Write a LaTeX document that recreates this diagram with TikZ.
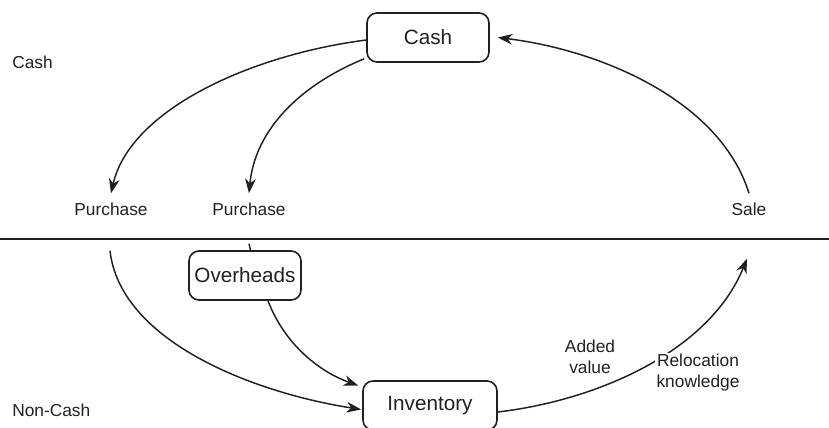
\documentclass[tikz,border=0pt]{standalone}
\usepackage{fontspec}
\setmainfont{Liberation Sans}
\usetikzlibrary{arrows.meta}
\definecolor{ink}{RGB}{35,31,32}
\begin{document}
\begin{tikzpicture}[x=0.75pt,y=-0.75pt,
  every node/.style={text=ink},
  stagebox/.style={draw=ink,line width=1.2pt,rounded corners=7.5pt,
    minimum height=49*0.75pt,inner sep=0pt,font=\fontsize{15.5}{18}\selectfont},
  flowlabel/.style={inner xsep=1.5pt,inner ysep=6.8pt,font=\fontsize{13}{15.5}\selectfont},
  sidelabel/.style={anchor=west,inner sep=0pt,font=\fontsize{13}{15.5}\selectfont},
  note/.style={align=center,inner sep=1pt,font=\fontsize{13}{15.5}\selectfont},
  flow/.style={draw=ink,line width=1.1pt},
  arrow/.style={flow,-{Stealth[length=11pt,width=8pt,inset=3.5pt]}}]
\useasboundingbox (0,0) rectangle (829,428);

% boundary between cash and non-cash
\draw[ink,line width=1.3pt] (0,239) -- (829,239);

% side captions
\node[sidelabel] (cashside) at (12,62) {Cash};
\node[sidelabel] (noncashside) at (12,410) {Non-Cash};

% boxes
\node[stagebox,minimum width=122*0.75pt] (cashbox) at (428,37.5) {Cash};
\node[stagebox,minimum width=112*0.75pt] (ovh) at (245,275.5) {Overheads};
\node[stagebox,minimum width=134*0.75pt] (inv) at (430,405.5) {Inventory};

% flow labels
\node[flowlabel] (p1) at (111,209) {Purchase};
\node[flowlabel] (p2) at (249,209) {Purchase};
\node[flowlabel] (sale) at (749,209) {Sale};
\node[note] (added) at (590,356.5) {Added\\value};

% cash outflows
\draw[arrow] ([shift={(0,2.5)}]cashbox.west) .. controls (250,55) and (130,110) .. (p1.north);
\draw[arrow] ([shift={(-2,-4)}]cashbox.south west) .. controls (300,85) and (255,130) .. (p2.north);

% sale back to cash
\draw[arrow] (sale.north) .. controls (720,100) and (600,50) .. ([shift={(8,0)}]cashbox.east);

% non-cash side
\draw[arrow] ([shift={(-1,26)}]p1.south) .. controls (120,340) and (250,392) .. ([shift={(-1,4)}]inv.west);
\draw[flow] ([shift={(0,19)}]p2.south) -- ([shift={(5.5,0)}]ovh.north);
\draw[arrow] ([shift={(23,0)}]ovh.south) .. controls (285,345) and (320,372) .. ([shift={(-4,-20)}]inv.west);
\draw[arrow] ([shift={(0,6.5)}]inv.east) .. controls (600,400) and (710,350) .. ([shift={(-2,34)}]sale.south);

% label over the rising flow
\node[note,fill=white,inner sep=1pt] (reloc) at (698,372.5) {Relocation\\knowledge};
\end{tikzpicture}
\end{document}
